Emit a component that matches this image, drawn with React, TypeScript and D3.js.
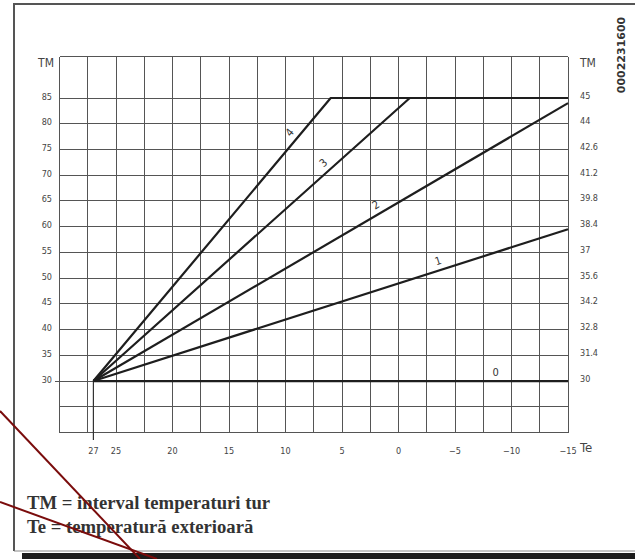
import React from "react";
import * as d3 from "d3";

// ---- data ----
const xTickValues = [27, 25, 20, 15, 10, 5, 0, -5, -10, -15];
const xTickLabels = ["27", "25", "20", "15", "10", "5", "0", "-5", "-10", "-15"];
const leftTickValues = [85, 80, 75, 70, 65, 60, 55, 50, 45, 40, 35, 30];
const rightTickLabels = ["45", "44", "42.6", "41.2", "39.8", "38.4", "37", "35.6", "34.2", "32.8", "31.4", "30"];

const curveNames = ["0", "1", "2", "3", "4"];
const curve0: [number, number][] = [[27, 30], [-15, 30]];
const curve1: [number, number][] = [[27, 30], [-15, 59.5]];
const curve2: [number, number][] = [[27, 30], [-15, 84]];
const curve3: [number, number][] = [[27, 30], [-1, 85], [-15, 85]];
const curve4: [number, number][] = [[27, 30], [6, 85], [-15, 85]];
const curves = [curve0, curve1, curve2, curve3, curve4];
// Te position of each curve label along its line
const labelTe = [-8.6, -3.75, 1.6, 6.1, 9.0];

const legendLines = ["TM = interval temperaturi tur", "Te = temperatură exterioară"];
const codeText = "0002231600";

export default function App() {
  const W = 635, H = 559;
  const x = d3.scaleLinear().domain([30, -15]).range([59.5, 568]);
  const y = d3.scaleLinear().domain([20, 85]).range([432.5, 98]);
  const yTop = 93;

  const vGrid = d3.range(30, -15.01, -2.5);
  const hGrid = d3.range(20, 85.01, 5);

  const line = d3.line<[number, number]>().x((d) => x(d[0])).y((d) => y(d[1]));

  const valueAt = (c: [number, number][], te: number) => {
    for (let i = 0; i < c.length - 1; i++) {
      const [a, av] = c[i];
      const [b, bv] = c[i + 1];
      if (te <= a && te >= b) {
        return { v: av + ((te - a) / (b - a)) * (bv - av), seg: i };
      }
    }
    return { v: c[c.length - 1][1], seg: c.length - 2 };
  };

  const gridColor = "#555";
  const tickFont = "'DejaVu Sans Condensed', 'DejaVu Sans', sans-serif";

  return (
    <svg width={W} height={H} style={{ position: "absolute", left: 0, top: 0, background: "#fff" }}>
      {/* outer frame */}
      <line x1={14} y1={4} x2={14} y2={551} stroke="#555" strokeWidth={2} />
      <line x1={13} y1={4} x2={635} y2={4} stroke="#555" strokeWidth={2} />
      <line x1={14} y1={551} x2={635} y2={551} stroke="#888" strokeWidth={1} />
      <rect x={22} y={553} width={613} height={6} fill="#1c1c1c" />

      {/* code text */}
      <text
        transform={`translate(625,55) rotate(-90)`}
        textAnchor="middle"
        fontFamily="'DejaVu Sans', sans-serif"
        fontWeight="bold"
        fontSize={11}
        fill="#333"
      >
        {codeText}
      </text>

      {/* grid */}
      <g stroke={gridColor} strokeWidth={1} shapeRendering="crispEdges">
        {vGrid.map((v) => (
          <line key={"v" + v} x1={x(v)} x2={x(v)} y1={y(yTop)} y2={y(20)} />
        ))}
        {hGrid.map((v) => (
          <line key={"h" + v} x1={v === 30 ? 55 : x(30)} x2={x(-15)} y1={y(v)} y2={y(v)} />
        ))}
        <line x1={x(30)} x2={x(-15)} y1={y(yTop)} y2={y(yTop)} />
      </g>

      {/* 27 tick */}
      <line x1={x(27)} x2={x(27)} y1={y(30)} y2={440} stroke="#333" strokeWidth={1.2} />

      {/* axis titles */}
      <text x={54} y={63} textAnchor="end" dominantBaseline="middle" fontFamily={tickFont} fontSize={12} fill="#444">TM</text>
      <text x={580} y={63} textAnchor="start" dominantBaseline="middle" fontFamily={tickFont} fontSize={12} fill="#444">TM</text>
      <text x={580} y={448} textAnchor="start" dominantBaseline="middle" fontFamily={tickFont} fontSize={13} fill="#444">Te</text>

      {/* left ticks */}
      {leftTickValues.map((v) => (
        <text key={"l" + v} x={52} y={y(v) - 1} textAnchor="end" dominantBaseline="middle" fontFamily={tickFont} fontSize={9} fill="#444">
          {v}
        </text>
      ))}
      {/* right ticks */}
      {rightTickLabels.map((t, i) => (
        <text key={"r" + i} x={580} y={y(leftTickValues[i]) - 2} textAnchor="start" dominantBaseline="middle" fontFamily={tickFont} fontSize={9} fill="#444">
          {t}
        </text>
      ))}
      {/* bottom ticks */}
      {xTickValues.map((v, i) => (
        <text key={"b" + i} x={x(v)} y={451} textAnchor="middle" dominantBaseline="middle" fontFamily={tickFont} fontSize={9} fill="#444">
          {xTickLabels[i].replace("-", "−")}
        </text>
      ))}

      {/* curves */}
      {curves.map((c, i) => (
        <path key={"c" + i} d={line(c) || ""} fill="none" stroke="#1e1e1e" strokeWidth={2.2} strokeLinejoin="round" />
      ))}

      {/* curve labels */}
      {curves.map((c, i) => {
        const te = labelTe[i];
        const { v, seg } = valueAt(c, te);
        const px = x(te), py = y(v);
        const dx = x(c[seg + 1][0]) - x(c[seg][0]);
        const dy = y(c[seg + 1][1]) - y(c[seg][1]);
        const len = Math.hypot(dx, dy);
        const nx = dy / len, ny = -dx / len; // normal pointing up-left
        const off = 8.5;
        const ang = (Math.atan2(dy, dx) * 180) / Math.PI;
        const lx = px + nx * off, ly = py + ny * off;
        return (
          <text
            key={"lab" + i}
            transform={`translate(${lx},${ly}) rotate(${ang})`}
            textAnchor="middle"
            dominantBaseline="middle"
            fontFamily={tickFont}
            fontSize={11}
            fill="#333"
          >
            {curveNames[i]}
          </text>
        );
      })}

      {/* legend */}
      {legendLines.map((t, i) => (
        <text key={"lg" + i} x={27} y={509 + i * 24} fontFamily="'Liberation Serif', serif" fontWeight="bold" fontSize={18.7} fill="#333">
          {t}
        </text>
      ))}

      {/* red annotation lines */}
      <line x1={0} y1={411} x2={140} y2={559} stroke="#7a0c0c" strokeWidth={2} />
      <line x1={0} y1={502} x2={157} y2={559} stroke="#7a0c0c" strokeWidth={2} />
    </svg>
  );
}
